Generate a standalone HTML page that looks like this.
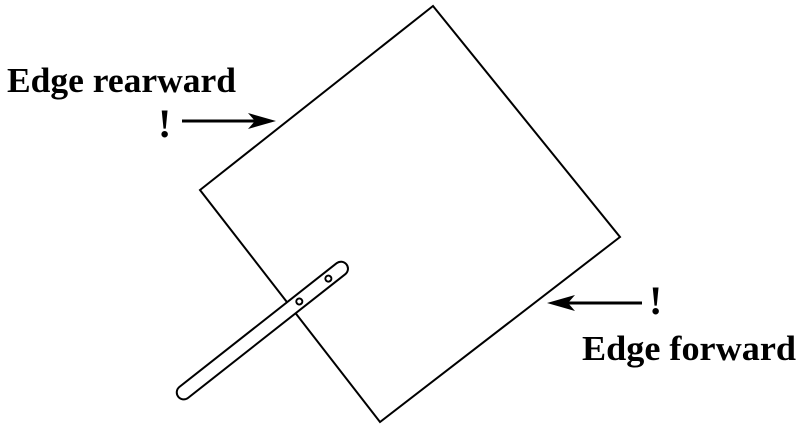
<!DOCTYPE html>
<html><head><style>body{margin:0;background:#fff}</style></head><body>
<svg width="800" height="428" xmlns="http://www.w3.org/2000/svg" style="display:block">
<polygon points="433,6 620,237 380,422 200,190" fill="none" stroke="#000" stroke-width="2"/>
<g transform="translate(183,393) rotate(-38.2)">
<rect x="-6" y="-7" width="214" height="14" rx="7" fill="#fff" stroke="#000" stroke-width="2"/>
<circle cx="148" cy="0" r="3" fill="#fff" stroke="#000" stroke-width="2"/>
<circle cx="185" cy="0" r="3" fill="#fff" stroke="#000" stroke-width="2"/>
</g>
<g font-family="Liberation Serif, serif" font-weight="bold" fill="#000">
<text x="7" y="92" font-size="35" textLength="229" lengthAdjust="spacingAndGlyphs">Edge rearward</text>
<text x="582" y="360" font-size="35" textLength="214" lengthAdjust="spacingAndGlyphs">Edge forward</text>
<text x="158" y="137" font-size="40">!</text>
<text x="649" y="314" font-size="40">!</text>
</g>
<line x1="182" y1="121" x2="258" y2="121" stroke="#000" stroke-width="3"/>
<polygon points="276,121 248,113 255,121 248,129" fill="#000"/>
<line x1="642" y1="303" x2="565" y2="303" stroke="#000" stroke-width="3"/>
<polygon points="547,303 575,295 568,303 575,311" fill="#000"/>
</svg>
</body></html>
